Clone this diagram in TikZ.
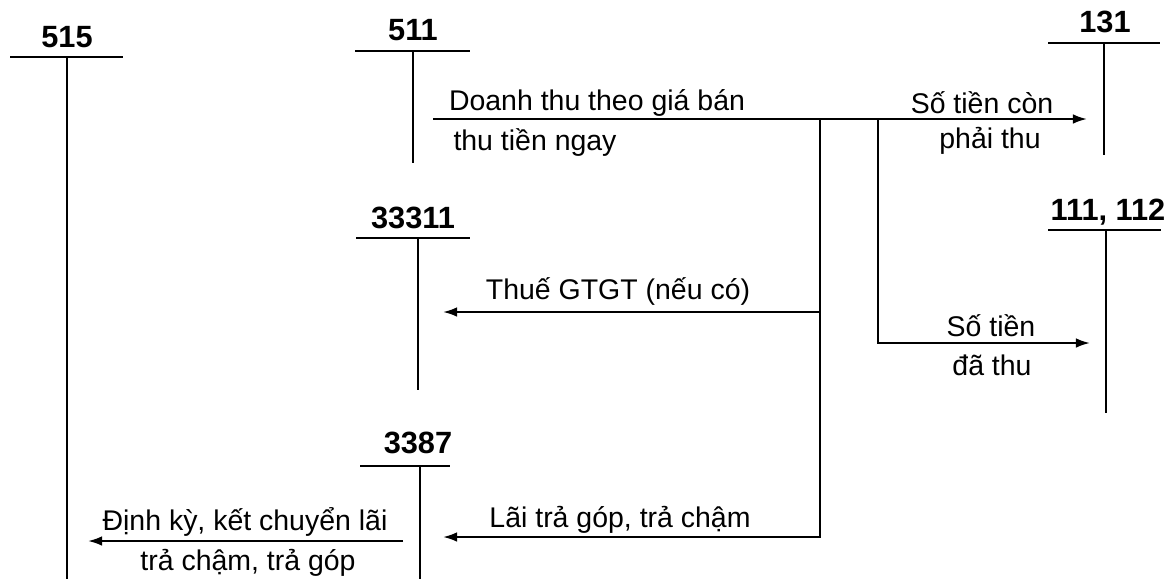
\documentclass[tikz,border=0pt]{standalone}
\usepackage{fontspec}
\setmainfont{Liberation Sans}
\usetikzlibrary{arrows.meta,positioning,calc}

\begin{document}
\begin{tikzpicture}[
            x=0.02cm, y=-0.02cm,
            every node/.style={font=\fontsize{16.2}{19}\selectfont, inner sep=1pt},
            acct/.style={font=\fontsize{17.5}{20}\selectfont\bfseries},
            tline/.style={line width=1.2pt},
            flow/.style={line width=1.2pt, -{Latex[length=8pt,width=5.5pt]}}
        ]
            \useasboundingbox (0,0) rectangle (1170,579);

            % T-accounts
            \node[acct] (a515) at (67,37) {515};
            \draw[tline] (10,57) -- (123,57);
            \draw[tline] (67,57) -- (67,579);

            \node[acct] (a511) at (413,30) {511};
            \draw[tline] (355,51) -- (470,51);
            \draw[tline] (413,51) -- (413,163);

            \node[acct] (a131) at (1105,22) {131};
            \draw[tline] (1048,43) -- (1160,43);
            \draw[tline] (1104,43) -- (1104,155);

            \node[acct] (a111) at (1108,212) {111, 112};
            \draw[tline] (1048,230) -- (1161,230);
            \draw[tline] (1106,230) -- (1106,413);

            \node[acct] (a33311) at (413,218) {33311};
            \draw[tline] (356,238) -- (470,238);
            \draw[tline] (418,238) -- (418,390);

            \node[acct] (a3387) at (418,443) {3387};
            \draw[tline] (360,466) -- (450,466);
            \draw[tline] (420,466) -- (420,579);

            % connector points
            \coordinate (s511) at (433,119);
            \coordinate (j1) at (820,119);
            \coordinate (j2) at (878,119);
            \coordinate (e131) at (1087,119);
            \coordinate (j1m) at (820,312);
            \coordinate (e33311) at (443,312);
            \coordinate (e3387) at (443,537);
            \coordinate (e111) at (1090,343);
            \coordinate (s3387) at (403,541);
            \coordinate (e515) at (88,541);

            \draw[flow] (s511) -- (e131);
            \draw[tline] (j1) -- (j1m);
            \draw[flow] (j1m) |- (e3387);
            \draw[flow] (j1m) -- (e33311);
            \draw[flow] (j2) |- (e111);
            \draw[flow] (s3387) -- (e515);

            % labels
            \node (l1a) at (597,103) {Doanh thu theo giá bán};
            \node (l1b) at (535,143) {thu tiền ngay};
            \node (l2a) at (982,103) {Số tiền còn};
            \node (l2b) at (990,141) {phải thu};
            \node (l3) at (618,291) {Thuế GTGT (nếu có)};
            \node (l4a) at (991,326) {Số tiền};
            \node (l4b) at (992,365) {đã thu};
            \node (l5) at (620,520) {Lãi trả góp, trả chậm};
            \node (l6a) at (245,522) {Định kỳ, kết chuyển lãi};
            \node (l6b) at (248,563) {trả chậm, trả góp};
        \end{tikzpicture}
\end{document}
